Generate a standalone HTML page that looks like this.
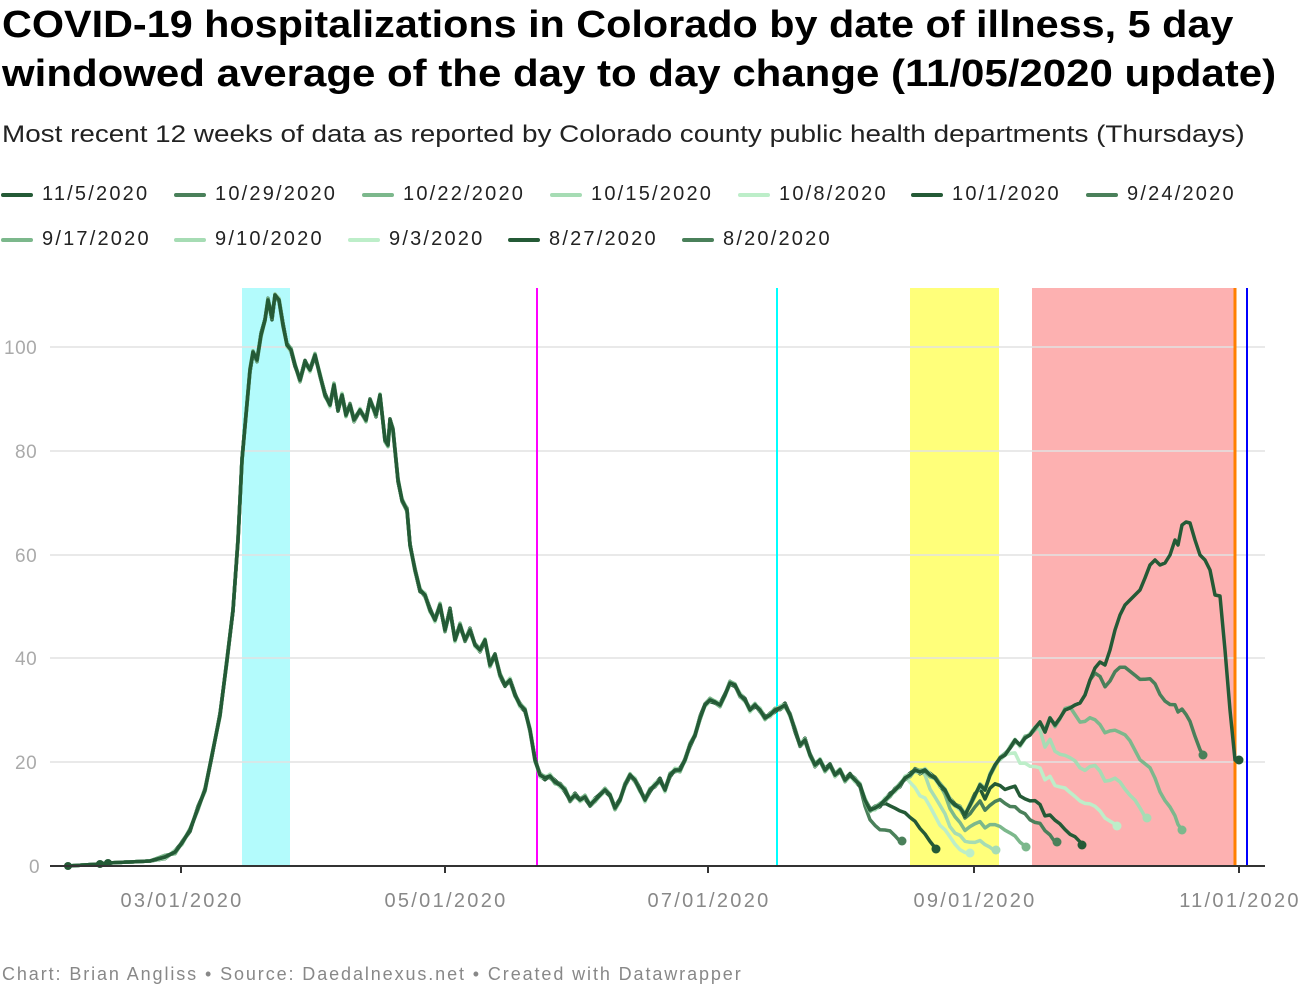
<!DOCTYPE html>
<html><head><meta charset="utf-8"><style>
body{margin:0;background:#fff;width:1300px;height:1000px;overflow:hidden;font-family:"Liberation Sans",sans-serif;}
.t{position:absolute;left:2px;font-size:38px;font-weight:bold;color:#000;white-space:nowrap;transform-origin:0 0}
.s{position:absolute;left:2px;top:121px;font-size:24px;color:#222;white-space:nowrap;transform-origin:0 0;transform:scaleX(1.16)}
.li{position:absolute;font-size:20px;color:#222;white-space:nowrap;letter-spacing:2.2px}
.li i{position:absolute;left:-41px;top:10px;width:32px;height:4px;border-radius:2px}
.f{position:absolute;left:2px;top:964px;font-size:18px;color:#888;white-space:nowrap;letter-spacing:1.9px}
</style></head><body>
<div class="t" style="top:4px;transform:scaleX(1.088)">COVID-19 hospitalizations in Colorado by date of illness, 5 day</div>
<div class="t" style="top:53px;transform:scaleX(1.105)">windowed average of the day to day change (11/05/2020 update)</div>
<div class="s">Most recent 12 weeks of data as reported by Colorado county public health departments (Thursdays)</div>
<div class="li" style="left:42px;top:183px"><i style="background:#245a36"></i>11/5/2020</div>
<div class="li" style="left:215px;top:183px"><i style="background:#4a805a"></i>10/29/2020</div>
<div class="li" style="left:403px;top:183px"><i style="background:#7cb88c"></i>10/22/2020</div>
<div class="li" style="left:591px;top:183px"><i style="background:#a6dcb4"></i>10/15/2020</div>
<div class="li" style="left:779px;top:183px"><i style="background:#bdeec9"></i>10/8/2020</div>
<div class="li" style="left:952px;top:183px"><i style="background:#245a36"></i>10/1/2020</div>
<div class="li" style="left:1127px;top:183px"><i style="background:#4a805a"></i>9/24/2020</div>
<div class="li" style="left:42px;top:228px"><i style="background:#7cb88c"></i>9/17/2020</div>
<div class="li" style="left:215px;top:228px"><i style="background:#a6dcb4"></i>9/10/2020</div>
<div class="li" style="left:389px;top:228px"><i style="background:#bdeec9"></i>9/3/2020</div>
<div class="li" style="left:549px;top:228px"><i style="background:#245a36"></i>8/27/2020</div>
<div class="li" style="left:723px;top:228px"><i style="background:#4a805a"></i>8/20/2020</div>
<svg id="c" width="1300" height="1000" style="position:absolute;left:0;top:0" xmlns="http://www.w3.org/2000/svg">
<rect x="242" y="288" width="48" height="578" fill="#b3fbfc"/>
<rect x="910" y="288" width="89" height="578" fill="#ffff7a"/>
<rect x="1032" y="288" width="204" height="578" fill="#fdb1b1"/>
<g stroke="#e2e2e2" stroke-width="1.5">
<line x1="50" x2="1265" y1="347" y2="347"/><line x1="50" x2="1265" y1="451" y2="451"/><line x1="50" x2="1265" y1="555" y2="555"/><line x1="50" x2="1265" y1="658" y2="658"/><line x1="50" x2="1265" y1="762" y2="762"/></g>
<line x1="537" x2="537" y1="288" y2="866" stroke="#f0f" stroke-width="2"/>
<line x1="777" x2="777" y1="288" y2="866" stroke="#0ff" stroke-width="2"/>
<line x1="1235" x2="1235" y1="288" y2="866" stroke="#ff7f00" stroke-width="3"/>
<line x1="1247" x2="1247" y1="288" y2="866" stroke="#00f" stroke-width="2"/>
<g font-size="19" fill="#aaa" font-family="Liberation Sans,sans-serif" letter-spacing="0.5">
<text x="4" y="354">100</text><text x="15" y="458">80</text><text x="15" y="562">60</text><text x="15" y="665">40</text><text x="15" y="769">20</text><text x="29" y="873">0</text></g>
<g id="lines"></g>
<line x1="50" x2="1265" y1="866" y2="866" stroke="#333" stroke-width="2"/>
<g stroke="#333" stroke-width="2"><line x1="181" x2="181" y1="866" y2="873"/><line x1="445" x2="445" y1="866" y2="873"/><line x1="708" x2="708" y1="866" y2="873"/><line x1="974" x2="974" y1="866" y2="873"/><line x1="1239" x2="1239" y1="866" y2="873"/></g>
<g font-size="20" fill="#888" text-anchor="middle" font-family="Liberation Sans,sans-serif" letter-spacing="2.3">
<text x="182" y="907">03/01/2020</text><text x="446" y="907">05/01/2020</text><text x="709" y="907">07/01/2020</text><text x="975" y="907">09/01/2020</text><text x="1240" y="907">11/01/2020</text></g>
</svg>
<div class="f">Chart: Brian Angliss • Source: Daedalnexus.net • Created with Datawrapper</div>
<script>
var P=[[68,866],[100,864],[108,863],[150,861],[165,857],[175,852],[182,843],[190,830],[198,808],[205,790],[212,755],[220,715],[227,660],[233,610],[238,540],[242,460],[246,415],[250,370],[253,352],[257,360],[261,335],[265,320],[268,300],[272,318],[275,295],[279,300],[283,325],[287,345],[291,350],[295,365],[300,380],[305,362],[310,370],[315,355],[320,375],[325,395],[330,405],[334,385],[338,410],[342,395],[346,415],[350,405],[354,420],[360,410],[366,420],[370,400],[376,415],[380,395],[385,440],[388,445],[390,420],[393,430],[398,480],[402,500],[407,510],[410,545],[415,570],[420,590],[425,595],[430,610],[435,620],[440,605],[445,630],[450,610],[455,640],[460,625],[465,640],[470,630],[475,645],[480,650],[485,640],[490,665],[495,655],[500,675],[505,685],[510,680],[515,695],[520,705],[525,710],[530,730],[535,760],[540,775],[545,778],[550,776],[555,782],[560,785],[565,790],[570,800],[575,795],[580,800],[585,797],[590,805],[595,800],[600,795],[605,790],[610,795],[615,808],[620,800],[625,785],[630,775],[635,780],[640,790],[645,800],[650,790],[655,785],[660,780],[665,790],[670,775],[675,770],[680,770],[685,760],[690,745],[695,735],[700,718],[705,705],[710,700],[715,702],[720,705],[725,695],[730,683],[735,685],[740,695],[745,700],[750,710],[755,705],[760,710],[765,718],[770,715],[775,710],[780,708],[785,705],[790,715],[795,730],[800,745],[805,740],[810,755],[815,765],[820,760],[825,770],[830,765],[835,775],[840,770],[845,780],[850,775],[855,780],[860,785],[865,800],[870,810],[875,808],[880,805],[885,800],[890,795],[895,790],[900,785],[905,778],[910,775],[915,770],[920,772],[925,770],[930,775],[935,778],[940,785],[945,790],[950,800],[955,805],[960,808],[965,815],[970,805],[975,795],[980,785],[985,790],[990,775],[995,765],[1000,758],[1005,755],[1010,748],[1015,740],[1020,745],[1025,738],[1030,735],[1035,728],[1040,722],[1045,732],[1050,718],[1055,725],[1060,718],[1065,710],[1070,708],[1075,705],[1080,703],[1085,695],[1090,680],[1095,668],[1100,662],[1105,665],[1110,650],[1115,630],[1120,615],[1125,605],[1130,600],[1135,595],[1140,590],[1145,578],[1150,565],[1155,560],[1160,565],[1165,563],[1170,555],[1175,540],[1178,545],[1182,525],[1186,522],[1190,523],[1195,540],[1200,555],[1205,560],[1210,570],[1215,595],[1220,596],[1225,650],[1230,710],[1235,760],[1239,760]];
var cols=["#245a36","#4a805a","#7cb88c","#a6dcb4","#bdeec9"];
var V=[[1239,760],[1203,755],[1182,830],[1147,818],[1117,826],[1082,845],[1057,842],[1026,847],[996,850],[970,853],[936,849],[902,841]];
var g=document.getElementById('lines'),out='';
function val(x){for(var i=1;i<P.length;i++){if(P[i][0]>=x){var a=P[i-1],b=P[i],t=(x-a[0])/(b[0]-a[0]);return 866-(a[1]+(b[1]-a[1])*t);}}return 866-P[P.length-1][1];}
for(var k=V.length-1;k>=0;k--){
 var xe=V[k][0],ye=866-V[k][1],c=cols[k%5],pts=[],wob=(k%3-1)*1.8;
 var span=k==0?0:Math.min(110,40+(xe-900)*0.35);
 var xs=xe-span, ve=val(xe), r=ve>0?ye/ve:1;
 for(var i=0;i<P.length&&P[i][0]<xe;i++){
   var x=P[i][0],v=866-P[i][1];
   if(k>0&&x>xs){var t=(x-xs)/span;var f=1+(r-1)*Math.pow(t,0.8);v=v*f;}
   if(k>0&&x>150)v+=wob*Math.sin(x*0.3+k);
   pts.push(x+','+(866-v).toFixed(1));
 }
 pts.push(xe+','+V[k][1]);
 out+='<polyline points="'+pts.join(' ')+'" fill="none" stroke="'+c+'" stroke-width="3.5" stroke-linejoin="round"/>';
 out+='<circle cx="'+xe+'" cy="'+V[k][1]+'" r="4.5" fill="'+c+'"/>';
}
out+='<circle cx="68" cy="866" r="4" fill="#245a36"/><circle cx="100" cy="864" r="4" fill="#245a36"/><circle cx="108" cy="863" r="4" fill="#245a36"/>';
g.innerHTML=out;
</script>
</body></html>
